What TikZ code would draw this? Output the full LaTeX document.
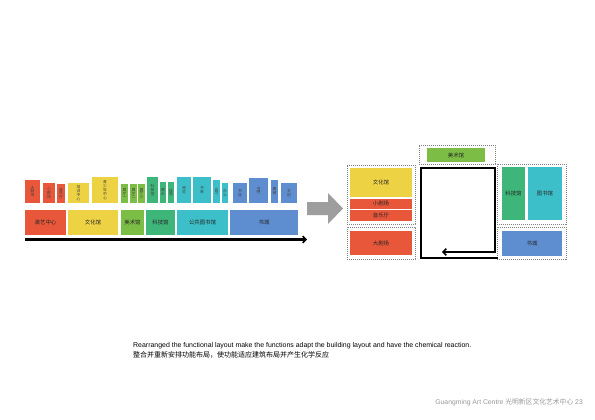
\documentclass[tikz,border=0pt]{standalone}
\usepackage{fontspec}
\setmainfont{Liberation Sans}
\newfontfamily\cjk{Noto Sans CJK SC}
\usetikzlibrary{arrows.meta}
\definecolor{cRed}{HTML}{E8573A}
\definecolor{cYel}{HTML}{EDD343}
\definecolor{cGrn}{HTML}{7CBD45}
\definecolor{cTgr}{HTML}{3EB67A}
\definecolor{cCya}{HTML}{3CBFC8}
\definecolor{cBlu}{HTML}{5E8ED0}
\tikzset{
  blk/.style={inner sep=0pt, outer sep=0pt, font=\cjk\fontsize{5.4}{5.8}\selectfont, text=black!85, align=center},
  vblk/.style={blk, font=\cjk\fontsize{3.8}{3.9}\selectfont, text=black!75},
  dbox/.style={draw=black!50, dash pattern=on 1.2pt off 0.8pt, line width=0.7pt, inner sep=0pt, outer sep=0pt},
  thick arrow/.style={line width=2.6pt, -{Straight Barb[length=3.2pt,width=6.5pt,line width=1.6pt]}}
}
\newcommand\blk[7]{\node[blk, fill=#6, minimum width={(#4-#2)*1pt}, minimum height={(#5-#3)*1pt}] (#1) at ({(#2+#4)/2},{(#3+#5)/2}) {#7};}
\newcommand\vbk[7]{\node[vblk, fill=#6, minimum width={(#4-#2)*1pt}, minimum height={(#5-#3)*1pt}] (#1) at ({(#2+#4)/2},{(#3+#5)/2}) {#7};}
\newcommand\dbx[5]{\node[dbox, minimum width={(#4-#2)*1pt}, minimum height={(#5-#3)*1pt}] (#1) at ({(#2+#4)/2},{(#3+#5)/2}) {};}
\begin{document}
\begin{tikzpicture}[x=1pt,y=-1pt]
\fill[white] (0,0) rectangle (595,420);
\useasboundingbox (0,0) rectangle (595,420);
% ---------- left: top row of small blocks ----------
\vbk{r1}{25}{180}{40}{203}{cRed}{大\\剧\\场}
\vbk{r2}{43}{183}{55}{203}{cRed}{小\\剧\\场}
\vbk{r3}{57}{184}{65}{203}{cRed}{音\\乐\\厅}
\vbk{y1}{68}{183}{89}{203}{cYel}{培\\训\\中\\心}
\vbk{y2}{92}{177}{118}{203}{cYel}{青\\少\\年\\中\\心}
\vbk{g1}{121}{184}{128}{203}{cGrn}{展\\厅\\一}
\vbk{g2}{130}{184}{137}{203}{cGrn}{展\\厅\\二}
\vbk{g3}{138}{184}{145}{203}{cGrn}{展\\厅\\三}
\vbk{t1}{147}{177}{158}{203}{cTgr}{科\\普\\馆}
\vbk{t2}{160}{182}{166}{203}{cTgr}{展\\示}
\vbk{t3}{168}{182}{174}{203}{cTgr}{体\\验}
\vbk{c1}{177}{177}{191}{203}{cCya}{阅\\览}
\vbk{c2}{193}{177}{211}{203}{cCya}{书\\库}
\vbk{c3}{213}{180}{220}{203}{cCya}{自\\习}
\vbk{c4}{222}{183}{228}{203}{cCya}{办\\公}
\vbk{b1}{233}{183}{247}{203}{cBlu}{书\\店}
\vbk{b2}{249}{178}{268}{203}{cBlu}{书\\吧}
\vbk{b3}{271}{180}{278}{203}{cBlu}{展\\销}
\vbk{b4}{281}{183}{297}{203}{cBlu}{文\\创}
% ---------- left: bottom row ----------
\blk{L1}{25}{210}{66}{235}{cRed}{演艺中心}
\blk{L2}{68}{210}{118}{235}{cYel}{文化馆}
\blk{L3}{121}{210}{144}{235}{cGrn}{美术馆}
\blk{L4}{146}{210}{175}{235}{cTgr}{科技馆}
\blk{L5}{177}{210}{228}{235}{cCya}{公共图书馆}
\blk{L6}{230}{210}{298}{235}{cBlu}{书城}
\coordinate (aS) at (25,239.5);
\coordinate (aE) at (307,239.5);
\draw[thick arrow] (aS) -- (aE);
% ---------- big grey arrow ----------
\fill[black!38] (307,202) -- (328,202) -- (328,193) -- (343,208.5) -- (328,224) -- (328,215) -- (307,215) -- cycle;
% ---------- right: left column ----------
\dbx{D1}{347}{165}{415}{224}
\blk{R1}{350}{168}{412}{197}{cYel}{文化馆}
\blk{R2}{350}{198.5}{412}{208.5}{cRed}{小剧场}
\blk{R3}{350}{210}{412}{220.5}{cRed}{音乐厅}
\dbx{D2}{347}{227}{415}{259}
\blk{R4}{350}{231}{412}{255}{cRed}{大剧场}
% ---------- right: top ----------
\dbx{D3}{419}{145}{495}{164}
\blk{R5}{427}{148}{485}{162}{cGrn}{美术馆}
% ---------- right: right column ----------
\dbx{D4}{497}{164}{566}{224}
\blk{R6}{502}{167}{525}{220}{cTgr}{科技馆}
\blk{R7}{528}{167}{562}{220}{cCya}{图书馆}
\dbx{D5}{497}{227}{566}{259}
\blk{R8}{502}{231}{562}{256}{cBlu}{书城}
% ---------- spiral circulation ----------
\coordinate (s0) at (498,258);
\coordinate (s1) at (421,258);
\coordinate (s2) at (421,168);
\coordinate (s3) at (495,168);
\coordinate (s4) at (495,252);
\coordinate (s5) at (442,252);
\draw[thick arrow, line join=miter] (s0) -- (s1) -- (s2) -- (s3) -- (s4) -- (s5);
% ---------- captions ----------
\node[anchor=base west, inner sep=0pt, font=\fontsize{6.95}{8}\selectfont] (cap1) at (133,347.5) {Rearranged the functional layout make the functions adapt the building layout and have the chemical reaction.};
\node[anchor=base west, inner sep=0pt, font=\cjk\fontsize{7}{8}\selectfont] (cap2) at (133,357.5) {整合并重新安排功能布局，使功能适应建筑布局并产生化学反应};
\node[anchor=base east, inner sep=0pt, text=black!40, font=\fontsize{6.8}{7}\selectfont] (foot) at (583,404) {Guangming Art Centre {\cjk 光明新区文化艺术中心} 23};
\end{tikzpicture}
\end{document}
